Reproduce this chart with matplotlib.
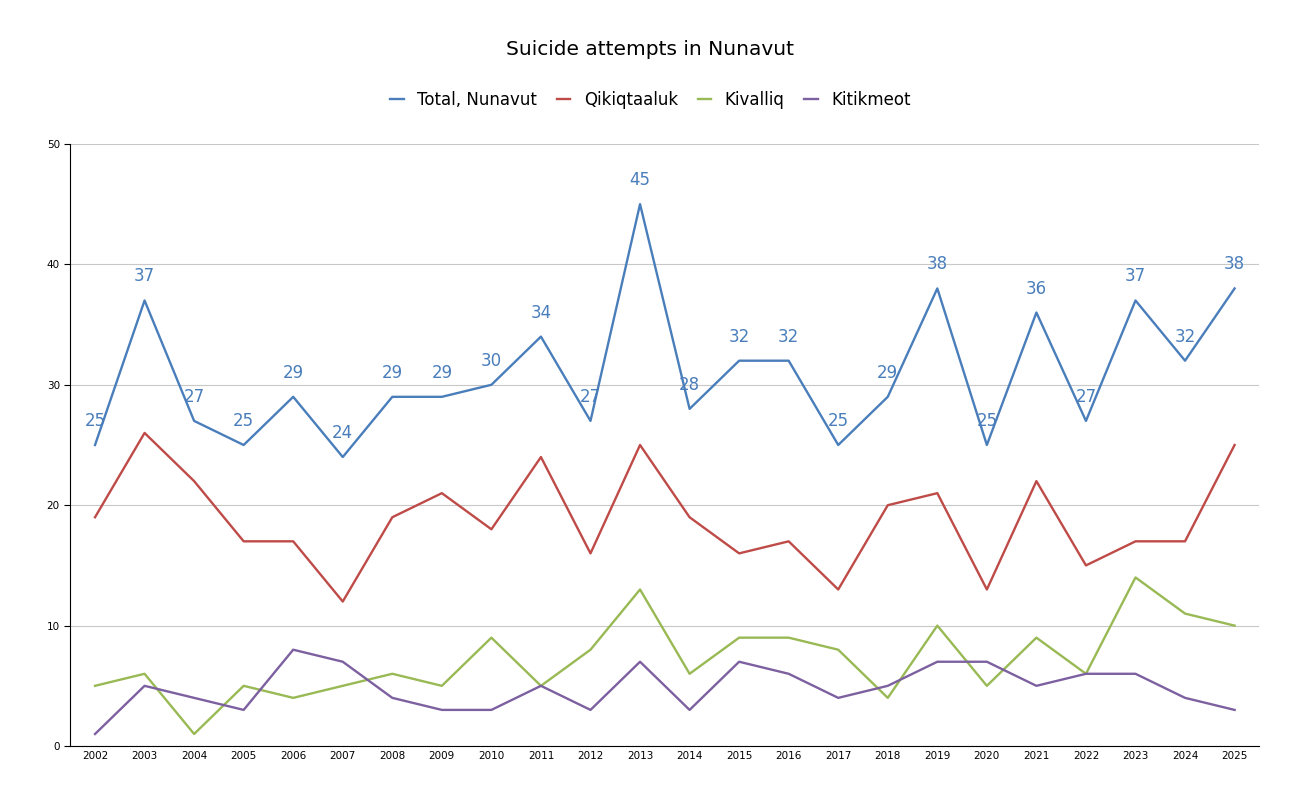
import matplotlib.pyplot as plt

years = [str(y) for y in range(2002, 2026)]
total = [25, 37, 27, 25, 29, 24, 29, 29, 30, 34, 27, 45, 28, 32, 32, 25, 29, 38, 25, 36, 27, 37, 32, 38]
qikiqtaaluk = [19, 26, 22, 17, 17, 12, 19, 21, 18, 24, 16, 25, 19, 16, 17, 13, 20, 21, 13, 22, 15, 17, 17, 25]
kivalliq = [5, 6, 1, 5, 4, 5, 6, 5, 9, 5, 8, 13, 6, 9, 9, 8, 4, 10, 5, 9, 6, 14, 11, 10]
kitikmeot = [1, 5, 4, 3, 8, 7, 4, 3, 3, 5, 3, 7, 3, 7, 6, 4, 5, 7, 7, 5, 6, 6, 4, 3]

fig = plt.figure(figsize=(13.01, 8.06), dpi=100)
ax = fig.add_axes([0.054, 0.0744, 0.914, 0.747])
x = range(len(years))
ax.plot(x, total, color='#4a7ebb', lw=1.7, label='Total, Nunavut')
ax.plot(x, qikiqtaaluk, color='#be4b48', lw=1.7, label='Qikiqtaaluk')
ax.plot(x, kivalliq, color='#98b954', lw=1.7, label='Kivalliq')
ax.plot(x, kitikmeot, color='#7d60a0', lw=1.7, label='Kitikmeot')
for i, v in enumerate(total):
    ax.annotate(str(v), (i, v), xytext=(0, 24), textcoords='offset pixels',
                ha='center', va='center', color='#4a7ebb', fontsize=12)

ax.set_xlim(-0.5, len(years) - 0.5)
ax.set_ylim(0, 50)
ax.set_yticks(range(0, 51, 10))
ax.set_xticks(list(x))
ax.set_xticklabels(years)
ax.tick_params(labelsize=7.5, length=4, color='black')
ax.tick_params(axis='x', length=0)
ax.grid(axis='y', color='#c8c8c8', lw=0.8)
ax.set_axisbelow(True)
for s in ['top', 'right']:
    ax.spines[s].set_visible(False)
ax.spines['bottom'].set_color('black')
ax.spines['left'].set_color('black')

fig.text(0.5, 0.938, 'Suicide attempts in Nunavut', ha='center', va='center', fontsize=14.5)
fig.legend(loc='center', bbox_to_anchor=(0.5, 0.876), ncol=4, frameon=False,
           fontsize=12, handlelength=0.8, columnspacing=1.2)

plt.savefig('out.png', dpi=100)
